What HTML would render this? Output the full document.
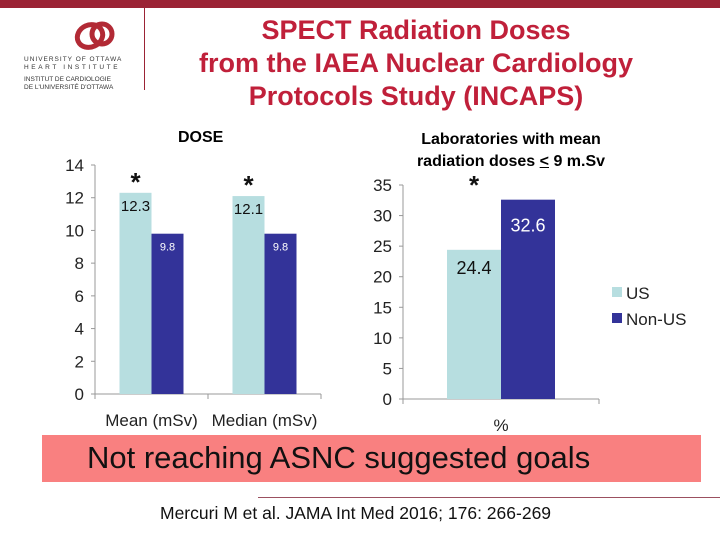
<!DOCTYPE html>
<html><head><meta charset="utf-8"><style>
body{margin:0;width:720px;height:540px;overflow:hidden;background:#fff;font-family:"Liberation Sans",sans-serif;position:relative}
.abs{position:absolute}
</style></head><body>
<div class="abs" style="left:0;top:0;width:720px;height:8px;background:#9b2335"></div>
<div class="abs" style="left:144px;top:8px;width:1px;height:82px;background:#9b2335"></div>
<svg class="abs" style="left:20px;top:14px" width="124" height="80">
<ellipse cx="70" cy="22" rx="13" ry="11" fill="none" stroke="#b22a35" stroke-width="5" transform="rotate(-25 70 22)"/>
<ellipse cx="82" cy="20" rx="10" ry="10" fill="none" stroke="#b22a35" stroke-width="5"/>
<text x="4" y="47" font-size="6.5" fill="#333" letter-spacing="1">UNIVERSITY OF OTTAWA</text>
<text x="4" y="55" font-size="6.5" fill="#333" letter-spacing="2.6">HEART INSTITUTE</text>
<text x="4" y="67" font-size="6.5" fill="#333">INSTITUT DE CARDIOLOGIE</text>
<text x="4" y="75" font-size="6.5" fill="#333">DE L'UNIVERSITÉ D'OTTAWA</text>
</svg>
<div class="abs" style="left:150px;top:14px;width:532px;text-align:center;font-size:27px;font-weight:bold;line-height:33px;color:#c0203a">SPECT Radiation Doses<br>from the IAEA Nuclear Cardiology<br>Protocols Study (INCAPS)</div>
<div class="abs" style="left:178px;top:129px;font-size:16px;font-weight:bold">DOSE</div>
<div class="abs" style="left:391px;top:129px;width:240px;text-align:center;font-size:16px;font-weight:bold;line-height:22px">Laboratories with mean<br>radiation doses <u>&lt;</u> 9 m.Sv</div>

<svg id="c1" class="abs" style="left:0;top:0" width="720" height="540"></svg>

<div class="abs" style="left:42px;top:435px;width:659px;height:47px;background:#f98080"></div>
<div class="abs" style="left:87px;top:440px;font-size:31px;color:#111">Not reaching ASNC suggested goals</div>
<div class="abs" style="left:258px;top:497px;width:462px;height:1px;background:#9b5060"></div>
<div class="abs" style="left:160px;top:503px;font-size:17.5px;color:#111">Mercuri M et al. JAMA Int Med 2016; 176: 266-269</div>

<script>
const leftCats=["Mean (mSv)","Median (mSv)"];
const leftUS=[12.3,12.1];
const leftNonUS=[9.8,9.8];
const leftTicks=[0,2,4,6,8,10,12,14];
const rightCats=["%"];
const rightUS=[24.4];
const rightNonUS=[32.6];
const rightTicks=[0,5,10,15,20,25,30,35];
const legendLabels=["US","Non-US"];
const LIGHT="#b7dee0",DARK="#333399";
const svg=document.getElementById('c1');
const NS="http://www.w3.org/2000/svg";
function mk(tag,attrs,name,txt){const e=document.createElementNS(NS,tag);for(const k in attrs)e.setAttribute(k,attrs[k]);


if(txt!==undefined)e.textContent=txt;svg.appendChild(e);return e;}
function chart(o){
 const y=v=>o.y0-(v/o.max)*(o.y0-o.yTop);
 mk('line',{x1:o.ax,y1:o.yTop,x2:o.ax,y2:o.y0,stroke:'#999'},'y-axis');
 mk('line',{x1:o.ax,y1:o.y0,x2:o.xEnd,y2:o.y0,stroke:'#999'},'x-axis');
 o.ticks.forEach(t=>{mk('line',{x1:o.ax-4,y1:y(t),x2:o.ax,y2:y(t),stroke:'#999'},'y-tick');
  mk('text',{x:o.ax-11,y:y(t)+6,'text-anchor':'end','font-size':17,fill:'#222'},'y-tick-label',t);});
 const n=o.cats.length,cw=(o.xEnd-o.ax)/n;
 for(let i=0;i<=n;i++)mk('line',{x1:o.ax+cw*i,y1:o.y0,x2:o.ax+cw*i,y2:o.y0+5,stroke:'#999'},'x-tick');
 o.cats.forEach((c,i)=>{const cx=o.ax+cw*i+cw/2;
  const b1=cx-o.bw,b2=cx;
  mk('rect',{x:b1,y:y(o.us[i]),width:o.bw,height:o.y0-y(o.us[i]),fill:LIGHT},'bar-us-'+i);
  mk('rect',{x:b2,y:y(o.non[i]),width:o.bw,height:o.y0-y(o.non[i]),fill:DARK},'bar-nonus-'+i);
  mk('text',{x:b1+o.bw/2,y:y(o.us[i])+o.lo1,'text-anchor':'middle','font-size':o.fs1,fill:'#111'},'value-us-'+i,o.us[i]);
  mk('text',{x:b2+o.bw/2,y:y(o.non[i])+o.lo2,'text-anchor':'middle','font-size':o.fs2,fill:'#fff'},'value-nonus-'+i,o.non[i]);
  mk('text',{x:b1+o.bw/2,y:y(o.us[i])-o.starOff,'text-anchor':'middle','font-size':26,'font-weight':'bold',fill:'#111'},'significance-star','*');
  mk('text',{x:cx,y:o.y0+32,'text-anchor':'middle','font-size':17,fill:'#222'},'x-label',c);});
}
chart({cats:leftCats,us:leftUS,non:leftNonUS,ticks:leftTicks,max:14,ax:95,xEnd:321,y0:394,yTop:165,bw:32,lo1:18,lo2:17,fs1:15,fs2:11,starOff:2});
chart({cats:rightCats,us:rightUS,non:rightNonUS,ticks:rightTicks,max:35,ax:403,xEnd:599,y0:399,yTop:185,bw:54,lo1:24,lo2:32,fs1:18,fs2:18,starOff:56});
mk('rect',{x:612,y:287,width:10,height:10,fill:LIGHT},'legend-swatch-us');
mk('text',{x:626,y:299,'font-size':17,fill:'#222'},'legend-label-us',legendLabels[0]);
mk('rect',{x:612,y:313,width:10,height:10,fill:DARK},'legend-swatch-nonus');
mk('text',{x:626,y:325,'font-size':17,fill:'#222'},'legend-label-nonus',legendLabels[1]);
</script>
</body></html>
